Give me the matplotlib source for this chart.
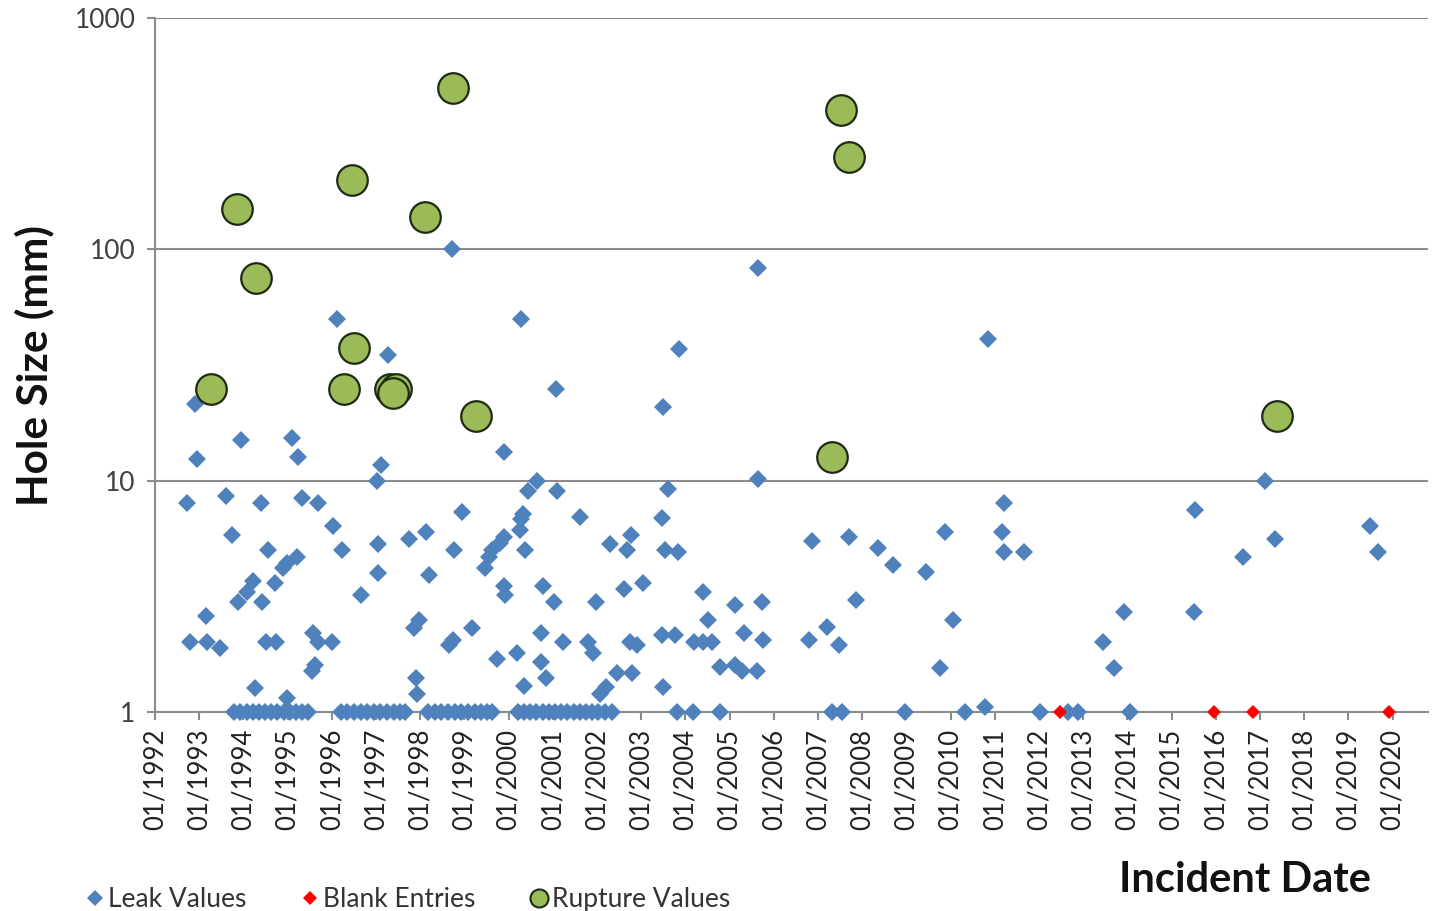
import matplotlib
matplotlib.use("Agg")
import matplotlib.pyplot as plt
from matplotlib.lines import Line2D

plt.rcParams['font.family'] = ['Lato', 'DejaVu Sans']

# leak values (decimal year, hole size mm)
leak_years = [
    1992.72, 1992.90, 1992.95, 1992.79, 1993.15, 1993.18, 1993.47, 1993.60, 1993.74, 1993.95,
    1993.88, 1994.08, 1994.22, 1994.42, 1994.26, 1994.40, 1994.56, 1994.51, 1994.74, 1994.71,
    1994.90, 1994.99, 1995.21, 1995.10, 1995.24, 1995.33, 1995.69, 1995.57, 1995.69, 1996.00,
    1995.62, 1995.55, 1994.99, 1996.03, 1996.12, 1996.23, 1996.66, 1997.05, 1997.11, 1997.02,
    1997.05, 1997.27, 1997.75, 1998.13, 1998.20, 1997.97, 1997.86, 1997.90, 1997.93, 1998.72,
    1998.95, 1998.76, 1998.65, 1998.74, 1999.17, 1999.47, 1999.55, 1999.62, 1999.81, 1999.90,
    1999.90, 1999.90, 1999.92, 1999.74, 2000.28, 2000.33, 2000.28, 2000.26, 2000.37, 2000.44,
    2000.64, 2000.19, 2000.35, 2001.07, 2001.09, 2000.78, 2001.03, 2000.73, 2000.73, 2000.85,
    2001.23, 2001.61, 2001.98, 2001.80, 2001.91, 2002.07, 2002.20, 2002.29, 2002.68, 2002.77,
    2002.60, 2003.04, 2002.75, 2002.90, 2002.45, 2002.79, 2003.49, 2003.86, 2003.61, 2003.47,
    2003.54, 2003.84, 2003.47, 2003.77, 2004.19, 2004.40, 2004.60, 2004.40, 2004.52, 2003.49,
    2004.78, 2005.12, 2005.12, 2005.28, 2005.62, 2005.33, 2005.65, 2005.65, 2005.73, 2005.76,
    2006.80, 2006.86, 2007.20, 2007.48, 2007.70, 2007.86, 2008.36, 2008.70, 2009.44, 2009.76,
    2009.87, 2010.05, 2010.85, 2011.21, 2011.16, 2011.21, 2011.66, 2013.45, 2013.70, 2013.92,
    2015.53, 2015.51, 2016.62, 2017.11, 2017.34, 2019.49, 2019.67, 2010.78,
]
leak_sizes = [
    8.0, 21.5, 12.4, 2.0, 2.6, 2.0, 1.9, 8.6, 5.8, 15.0,
    3.0, 3.3, 3.7, 3.0, 1.27, 8.0, 5.0, 2.0, 2.0, 3.6,
    4.2, 4.4, 4.7, 15.3, 12.7, 8.4, 8.0, 2.2, 2.0, 2.0,
    1.6, 1.5, 1.15, 6.4, 50, 5.0, 3.2, 5.3, 11.7, 10.0,
    4.0, 35, 5.6, 6.0, 3.9, 2.5, 2.3, 1.4, 1.2, 100,
    7.3, 5.0, 1.95, 2.05, 2.3, 4.2, 4.7, 5.0, 5.4, 5.7,
    13.3, 3.5, 3.2, 1.7, 50, 7.2, 6.8, 6.1, 5.0, 9.0,
    10.0, 1.8, 1.3, 25, 9.0, 3.5, 3.0, 2.2, 1.65, 1.4,
    2.0, 7.0, 3.0, 2.0, 1.8, 1.2, 1.28, 5.3, 5.0, 5.8,
    3.4, 3.6, 2.0, 1.95, 1.48, 1.48, 20.8, 37, 9.2, 6.9,
    5.0, 4.9, 2.15, 2.15, 2.0, 2.0, 2.0, 3.3, 2.5, 1.28,
    1.57, 2.9, 1.6, 1.5, 1.5, 2.2, 83, 10.2, 3.0, 2.05,
    2.05, 5.5, 2.33, 1.95, 5.7, 3.05, 5.1, 4.3, 4.05, 1.55,
    6.0, 2.5, 41, 8.0, 6.0, 4.9, 4.9, 2.0, 1.55, 2.7,
    7.5, 2.7, 4.7, 10.0, 5.6, 6.35, 4.9, 1.05,
]

# leaks recorded as 1 mm
leak_one_years = [
    1993.79, 1993.93, 1994.07, 1994.21, 1994.35, 1994.49, 1994.63, 1994.77, 1994.91, 1995.05,
    1995.19, 1995.33, 1995.47,
    1996.20, 1996.35, 1996.50, 1996.65, 1996.80, 1996.95, 1997.10, 1997.25, 1997.40, 1997.55, 1997.66,
    1998.18, 1998.33, 1998.48, 1998.63, 1998.78, 1998.93, 1999.08, 1999.23, 1999.38, 1999.52, 1999.62,
    2000.21, 2000.35, 2000.49, 2000.63, 2000.77, 2000.91, 2001.05, 2001.19, 2001.33, 2001.47,
    2001.61, 2001.75, 2001.89, 2002.03, 2002.17, 2002.34,
    2003.81, 2004.17, 2004.78, 2007.32, 2007.54, 2008.97, 2010.33, 2012.02, 2012.66, 2012.88,
    2014.06,
]

blank_years = [2012.47, 2015.96, 2016.84, 2019.92]

rupture_years = [1993.27, 1993.86, 1994.29, 1996.46, 1996.50, 1996.28, 1997.32, 1997.45, 1997.38,
                 1998.11, 1998.74, 1999.26, 2007.52, 2007.70, 2007.32, 2017.38]
rupture_sizes = [25, 150, 75, 200, 37.5, 25, 25, 25, 24, 138, 500, 19, 400, 250, 12.6, 19]

tick_years = list(range(1992, 2021))
tick_labels = ["01/{}".format(y) for y in tick_years]

blue = '#4F81BD'
green = '#9BBB59'
grid_c = '#8C8C8C'

fig = plt.figure(figsize=(14.37, 9.11), dpi=100)
ax = fig.add_axes([0.1079, 0.2184, 0.8858, 0.7618])

ax.set_yscale('log')
ax.set_ylim(1, 1000)
ax.set_xlim(1992, 2020.8)

ax.plot(leak_years, leak_sizes, 'D', color=blue, ms=9.5, mew=0, clip_on=False, zorder=3)
ax.plot(leak_one_years, [1] * len(leak_one_years), 'D', color=blue, ms=9.5, mew=0,
        clip_on=False, zorder=3)
ax.plot(blank_years, [1] * len(blank_years), 'D', color='#FF0000', ms=7.5, mew=0,
        clip_on=False, zorder=4)
ax.plot(rupture_years, rupture_sizes, 'o', color=green, ms=22, mec='#1E2A12', mew=1.6,
        clip_on=False, zorder=5)

ax.set_yticks([1, 10, 100, 1000])
ax.set_yticklabels(['1', '10', '100', '1000'])
ax.minorticks_off()
ax.set_xticks(tick_years)
ax.set_xticklabels(tick_labels, rotation=90)

ax.yaxis.grid(True, color=grid_c, lw=1.5)
ax.set_axisbelow(True)
for s in ['top', 'right']:
    ax.spines[s].set_visible(False)
ax.spines['left'].set_color(grid_c)
ax.spines['left'].set_linewidth(1.5)
ax.spines['bottom'].set_color(grid_c)
ax.spines['bottom'].set_linewidth(1.5)

ax.tick_params(axis='x', colors=grid_c, length=6, width=1.5, labelsize=18.5, labelcolor='#222222', pad=6)
ax.tick_params(axis='y', colors=grid_c, length=6, width=1.5, labelsize=19, labelcolor='#404040', pad=8)

ax.set_ylabel('Hole Size (mm)', fontsize=30.5, fontweight='bold', color='#111111')
ax.yaxis.set_label_coords(-0.079, 0.5)
ax.set_xlabel('Incident Date', fontsize=30, fontweight='bold', color='#111111')
ax.xaxis.set_label_coords(0.856, -0.214)

handles = [
    Line2D([], [], ls='none', marker='D', color=blue, ms=8, mew=0, label='Leak Values'),
    Line2D([], [], ls='none', marker='D', color='#FF0000', ms=7, mew=0, label='Blank Entries'),
    Line2D([], [], ls='none', marker='o', color=green, ms=13, mec='#1E2A12', mew=1.5,
           label='Rupture Values'),
]
fig.legend(handles=handles, loc='lower left', bbox_to_anchor=(0.043, -0.027), ncol=3,
           frameon=False, fontsize=19, handlelength=0.7, handletextpad=0.15,
           columnspacing=2.05, labelcolor='#333333')

fig.savefig('out.png', dpi=100)
